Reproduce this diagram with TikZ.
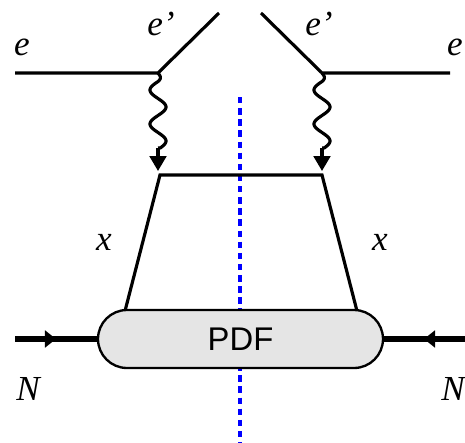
\documentclass[tikz,border=0pt]{standalone}
\usepackage{fontspec}
\newfontfamily\lblfont{Liberation Serif Italic}
\newfontfamily\pdffont{Liberation Sans}
\usepackage{tikz}
\usetikzlibrary{arrows.meta,positioning}

\begin{document}
\begin{tikzpicture}[
    x=0.03cm, y=-0.03cm,
    fermion/.style={line width=2.7pt},
    nucleon/.style={line width=5pt},
    photon/.style={line width=2.7pt, line join=round},
    lbl/.style={font=\lblfont\fontsize{30}{32}\selectfont, inner sep=0pt},
    blob/.style={draw, line width=2pt, fill=black!10, rounded corners=0.87cm,
        minimum width=8.55cm, minimum height=1.74cm,
        font=\pdffont\fontsize{28}{32}\selectfont}
]
\useasboundingbox (0,0) rectangle (465,443);

% vertices
\coordinate (eL) at (15,73);
\coordinate (vL) at (158,73);
\coordinate (oL) at (219,13);
\coordinate (eR) at (450,73);
\coordinate (vR) at (322,73);
\coordinate (oR) at (261,13);
\coordinate (wL) at (158,148);
\coordinate (wR) at (322,148);
\coordinate (tL) at (158,171);
\coordinate (tR) at (322,171);

% quark box
\coordinate (qTL) at (160,175);
\coordinate (qTR) at (322,175);
\coordinate (qBL) at (125,311);
\coordinate (qBR) at (357,311);

% cut
\draw[blue, line width=2.6pt, dash pattern=on 5.5pt off 4pt] (240,97) -- (240,443);

\draw[fermion] (eL) -- (vL) -- (oL);
\draw[fermion] (eR) -- (vR) -- (oR);

% photons
\foreach \px/\nm in {158/L, 322/R} {
  \draw[photon] (v\nm) -- plot[domain=73:148, samples=90, smooth]
      ({\px - 8*min(1,(\x-73)/10)*sin((\x-81.5)*10.588)}, \x) -- (w\nm);
  \draw[fermion, -{Triangle[length=0.45cm, width=0.5cm]}] (w\nm) -- (t\nm);
}
\draw[fermion, line join=miter] (qBL) -- (qTL) -- (qTR) -- (qBR);

\node[blob] (pdf) at (240.5,339) {PDF};

\coordinate (nL) at (15,339);
\coordinate (nR) at (465,339);
\coordinate (aL) at (56,339);
\coordinate (aR) at (424,339);
\draw[nucleon] (nL) -- (pdf.west);
\draw[nucleon] (nR) -- (pdf.east);
\draw[nucleon, -{Triangle[length=0.33cm, width=0.5cm]}] (nL) -- (aL);
\draw[nucleon, -{Triangle[length=0.33cm, width=0.5cm]}] (nR) -- (aR);

% labels
\node[lbl] (le) at (22,47) {e};
\node[lbl] (lep) at (161,24) {e’};
\node[lbl] (re) at (455,47) {e};
\node[lbl] (rep) at (319,24) {e’};
\node[lbl] (lx) at (104,242) {x};
\node[lbl] (rx) at (380,242) {x};
\node[lbl] (lN) at (28,389) {N};
\node[lbl] (rN) at (453,389) {N};
\end{tikzpicture}
\end{document}
